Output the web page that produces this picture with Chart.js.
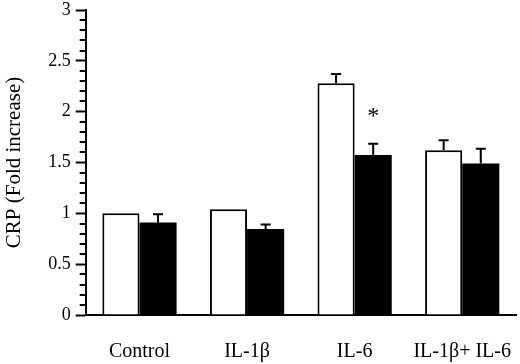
<!DOCTYPE html>
<html>
<head>
<meta charset="utf-8">
<script src="https://cdn.jsdelivr.net/npm/chart.js@4/dist/chart.umd.min.js"></script>
<style>
  html, body { margin: 0; padding: 0; background: #fff; overflow: hidden; }
  canvas { display: block; }
</style>
</head>
<body>
<canvas id="crpChart" width="520" height="364"></canvas>
<script>
const categories = ['Control', 'IL-1β', 'IL-6', 'IL-1β+ IL-6']
const whiteValues = [1.0, 1.04, 2.28, 1.62]
const whiteErrors = [0, 0, 0.09, 0.1]
const blackValues = [0.91, 0.845, 1.575, 1.49]
const blackErrors = [0.08, 0.045, 0.11, 0.145]
const starMarks = ['', '', '*', '']
const starValue = 2.0
const yTicks = [0, 0.5, 1, 1.5, 2, 2.5, 3]

const serif = '"Liberation Serif", "DejaVu Serif", serif'

// up-only error bars with a cap, plus the significance star
const errorBars = {
  id: 'errorBars',
  afterDatasetsDraw(chart) {
    const ctx = chart.ctx
    const yScale = chart.scales.y
    ctx.save()
    ctx.strokeStyle = '#000'
    ctx.lineWidth = 2
    chart.data.datasets.forEach((ds, i) => {
      const meta = chart.getDatasetMeta(i)
      meta.data.forEach((bar, j) => {
        const err = ds.errors[j]
        if (!err) return
        const yTop = yScale.getPixelForValue(ds.data[j])
        const yErr = yScale.getPixelForValue(ds.data[j] + err)
        ctx.beginPath()
        ctx.moveTo(bar.x, yTop)
        ctx.lineTo(bar.x, yErr)
        ctx.moveTo(bar.x - 5, yErr)
        ctx.lineTo(bar.x + 5, yErr)
        ctx.stroke()
      })
    })
    const blackMeta = chart.getDatasetMeta(1)
    ctx.fillStyle = '#000'
    ctx.font = '24px ' + serif
    ctx.textAlign = 'center'
    ctx.textBaseline = 'middle'
    starMarks.forEach((s, j) => {
      if (!s) return
      ctx.fillText(s, blackMeta.data[j].x, yScale.getPixelForValue(starValue) + 5)
    })
    ctx.restore()
  }
}

// short minor ticks every 0.1 on the y axis
const minorTicks = {
  id: 'minorTicks',
  afterDraw(chart) {
    const ctx = chart.ctx
    const yScale = chart.scales.y
    const x0 = chart.chartArea.left
    ctx.save()
    ctx.strokeStyle = '#000'
    ctx.lineWidth = 2
    for (let k = 0; k <= 30; k++) {
      if (k % 5 === 0) continue
      const y = Math.round(yScale.getPixelForValue(k / 10))
      ctx.beginPath()
      ctx.moveTo(x0 - 6, y)
      ctx.lineTo(x0, y)
      ctx.stroke()
    }
    ctx.restore()
  }
}

const ctx = document.getElementById('crpChart').getContext('2d')
new Chart(ctx, {
  type: 'bar',
  data: {
    labels: categories,
    datasets: [
      {
        data: whiteValues,
        errors: whiteErrors,
        backgroundColor: '#fff',
        borderColor: '#000',
        borderWidth: 2,
        borderSkipped: 'bottom'
      },
      {
        data: blackValues,
        errors: blackErrors,
        backgroundColor: '#000',
        borderColor: '#000',
        borderWidth: 0
      }
    ]
  },
  options: {
    responsive: false,
    animation: false,
    layout: { padding: { top: 10, right: 4, left: 2, bottom: 0 } },
    datasets: {
      bar: { categoryPercentage: 0.69, barPercentage: 1.0 }
    },
    plugins: {
      legend: { display: false },
      tooltip: { enabled: false }
    },
    scales: {
      x: {
        afterFit: (scale) => {
          scale.height = 49
          scale.paddingLeft = 0
          scale.paddingRight = 0
        },
        grid: { display: false, drawTicks: false },
        border: { display: true, color: '#000', width: 2 },
        ticks: {
          color: '#000',
          padding: 25,
          maxRotation: 0,
          autoSkip: false,
          font: { family: serif, size: 20 }
        }
      },
      y: {
        min: 0,
        max: 3,
        afterBuildTicks: (scale) => {
          scale.ticks = yTicks.map((v) => ({ value: v }))
        },
        afterFit: (scale) => {
          scale.paddingTop = 0
          scale.paddingBottom = 0
        },
        grid: { drawOnChartArea: false, tickLength: 10, tickColor: '#000', tickWidth: 2 },
        border: { display: true, color: '#000', width: 2 },
        ticks: {
          color: '#000',
          padding: 5,
          font: { family: serif, size: 18 },
          callback: (v) => String(v)
        },
        title: {
          display: true,
          text: 'CRP (Fold increase)',
          color: '#000',
          padding: { top: 0, bottom: 16 },
          font: { family: serif, size: 21 }
        }
      }
    }
  },
  plugins: [errorBars, minorTicks]
})
</script>
</body>
</html>
